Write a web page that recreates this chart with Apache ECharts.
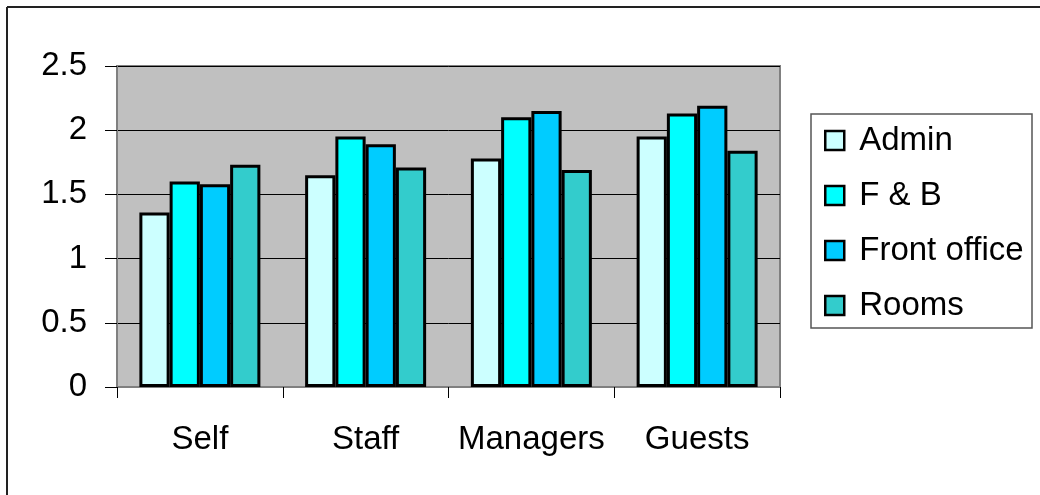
<!DOCTYPE html>
<html>
<head>
<meta charset="utf-8">
<script src="https://cdn.jsdelivr.net/npm/echarts@6/dist/echarts.min.js"></script>
<style>
html,body{margin:0;padding:0;background:#fff;}
#chart{width:1040px;height:495px;}
</style>
</head>
<body>
<div id="chart"></div>
<script>
const categories = ['Self', 'Staff', 'Managers', 'Guests'];
const seriesNames = ['Admin', 'F & B', 'Front office', 'Rooms'];
const admin = [1.36, 1.65, 1.78, 1.95];
const fnb = [1.60, 1.95, 2.10, 2.13];
const frontOffice = [1.58, 1.89, 2.15, 2.19];
const rooms = [1.73, 1.71, 1.69, 1.84];
const yTicks = [0, 0.5, 1, 1.5, 2, 2.5];
const colors = ['#CCFFFF', '#00FFFF', '#00CCFF', '#33CCCC'];

const values = [admin, fnb, frontOffice, rooms];
const FONT = '"Liberation Sans", Arial, sans-serif';

const chart = echarts.init(document.getElementById('chart'), null, {renderer: 'canvas'});
chart.setOption({
  animation: false,
  backgroundColor: '#ffffff',
  textStyle: {fontFamily: FONT},
  grid: {
    left: 117, right: 260, top: 66, bottom: 108,
    show: true, backgroundColor: '#C0C0C0', borderColor: '#808080', borderWidth: 2
  },
  legend: {
    orient: 'vertical',
    left: 824, top: 124,
    padding: 0,
    itemWidth: 19, itemHeight: 19,
    itemGap: 22,
    icon: 'rect',
    textStyle: {fontSize: 33, color: '#000', fontFamily: FONT, lineHeight: 33, padding: [0, 0, 0, 10]},
    itemStyle: {borderColor: '#000', borderWidth: 2.5},
    data: seriesNames
  },
  xAxis: {
    type: 'category',
    data: categories,
    axisLine: {lineStyle: {color: '#808080', width: 2}},
    axisTick: {show: true, alignWithLabel: false, interval: 0, length: 11, lineStyle: {color: '#000', width: 1}},
    axisLabel: {fontSize: 33, color: '#000', margin: 36, interval: 0, fontFamily: FONT}
  },
  yAxis: {
    type: 'value',
    min: yTicks[0], max: yTicks[yTicks.length - 1], interval: 0.5,
    axisLine: {show: true, lineStyle: {color: '#808080', width: 2}},
    axisTick: {show: true, length: 12, lineStyle: {color: '#000', width: 1}},
    axisLabel: {fontSize: 33, color: '#000', margin: 30, fontFamily: FONT},
    splitLine: {show: true, lineStyle: {color: '#000', width: 1}}
  },
  graphic: [
    {type: 'line', shape: {x1: 7, y1: 7, x2: 1040, y2: 7}, style: {stroke: '#222', lineWidth: 2}, z: 100},
    {type: 'line', shape: {x1: 7, y1: 7, x2: 7, y2: 495}, style: {stroke: '#222', lineWidth: 2}, z: 100},
    {type: 'rect', shape: {x: 811, y: 114, width: 221, height: 214}, style: {fill: '#fff', stroke: '#555', lineWidth: 1.5}, z: -1}
  ],
  series: seriesNames.map((name, i) => ({
    name: name,
    type: 'bar',
    data: values[i],
    barGap: '0%',
    barCategoryGap: '27%',
    itemStyle: {color: colors[i], borderColor: '#000', borderWidth: 3}
  }))
});
</script>
</body>
</html>
